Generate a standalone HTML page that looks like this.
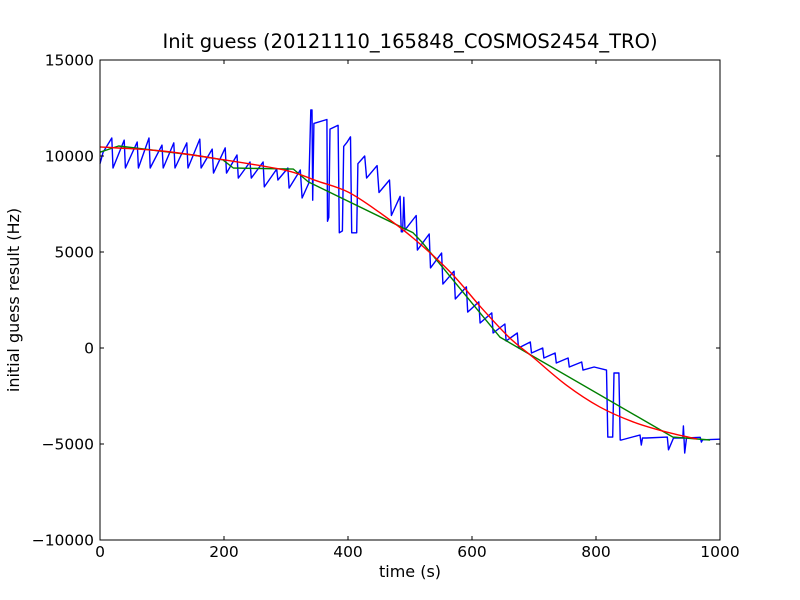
<!DOCTYPE html>
<html><head><meta charset="utf-8"><style>
html,body{margin:0;padding:0;background:#fff;}
svg{display:block;font-family:"DejaVu Sans","Liberation Sans",sans-serif;}
</style></head><body>
<svg id="chart" width="800" height="600" viewBox="0 0 800 600">
<rect x="0" y="0" width="800" height="600" fill="#fff"/>
<text x="410" y="48" font-size="19.5" text-anchor="middle">Init guess (20121110_165848_COSMOS2454_TRO)</text>
<text x="410" y="577" font-size="16" text-anchor="middle">time (s)</text>
<text transform="translate(19,300) rotate(-90)" font-size="16" text-anchor="middle">initial guess result (Hz)</text>
<g id="series"></g>
<g id="axes"></g>
<rect x="100" y="60" width="620" height="480" fill="none" stroke="#000" stroke-width="1"/>
</svg>
<script>
const xTicks = [0, 200, 400, 600, 800, 1000];
const yTicks = [15000, 10000, 5000, 0, -5000, -10000];
const blueT = [0,5,19,21,39,41,60,62,79,81,100,102,119,121,140,142,161,163,181,183,202,204,221,223,242,244,263,265,285,287,303,305,323,326,337,340,342,343,345,366,367,369,371,384,386,391,393,398,404,406,414,416,427,430,447,450,467,470,484,486,488,490,492,510,512,531,533,551,553,571,573,591,593,611,613,632,634,653,655,673,675,694,696,714,716,734,736,755,757,777,779,797,817,819,827,829,831,837,839,841,871,873,875,881,915,917,925,940,941,943,946,968,970,972,1000];
const blueV = [9600,10200,10940,9375,10830,9375,10730,9375,10940,9375,10570,9375,10680,9375,10680,9375,10880,9375,10360,9110,10420,9110,10050,8850,9690,8850,9690,8390,9320,8750,9375,8330,9270,7810,8600,12400,12400,7700,11700,11900,6600,6800,11400,11600,6000,6100,10500,10700,11000,6000,6000,9600,10000,8850,9500,8100,8750,6900,7900,6050,6050,7850,6150,6900,5100,5940,4170,4950,3330,4000,2550,3180,1870,2400,1300,1830,780,1250,365,780,0,310,-260,0,-520,-260,-780,-520,-990,-730,-1150,-990,-1150,-4640,-4640,-1300,-1300,-1300,-4790,-4790,-4530,-5050,-4690,-4690,-4640,-5300,-4690,-4690,-4060,-5470,-4690,-4650,-4900,-4780,-4750];
const greenT = [0,30,150,198,215,312,336,505,519,645,924,984];
const greenV = [10200,10520,10050,9800,9375,9320,8650,6000,5520,570,-4640,-4790];
const redT = [0,100,200,300,350,400,450,505,565,615,661,698,752,806,860,914,963];
const redV = [10470,10260,9800,9250,8700,8125,7080,5730,3950,2100,520,-470,-1930,-3070,-3850,-4380,-4740];

const X0=100,X1=720,Y0=540,Y1=60,XMIN=0,XMAX=1000,YMIN=-10000,YMAX=15000;
function xs(v){return X0+(v-XMIN)/(XMAX-XMIN)*(X1-X0);}
function ys(v){return Y0-(v-YMIN)/(YMAX-YMIN)*(Y0-Y1);}
const NS="http://www.w3.org/2000/svg";
const series=document.getElementById('series');
const axes=document.getElementById('axes');

function line(ts,vs,color,name){
  const p=document.createElementNS(NS,'polyline');
  p.setAttribute('points',ts.map((t,i)=>xs(t).toFixed(1)+','+ys(vs[i]).toFixed(1)).join(' '));
  p.setAttribute('fill','none');p.setAttribute('stroke',color);p.setAttribute('stroke-width','1.4');
  p.setAttribute('stroke-linejoin','round');
  
  
  series.appendChild(p);
}
line(blueT,blueV,'#0000ff','blue-series-line');
line(greenT,greenV,'#008000','green-series-line');
(function(){
  const pts=redT.map((t,i)=>[xs(t),ys(redV[i])]);
  let d='M'+pts[0][0]+','+pts[0][1];
  for(let i=0;i<pts.length-1;i++){
    const p0=pts[i-1]||pts[i],p1=pts[i],p2=pts[i+1],p3=pts[i+2]||p2;
    const c1=[p1[0]+(p2[0]-p0[0])/6,p1[1]+(p2[1]-p0[1])/6];
    const c2=[p2[0]-(p3[0]-p1[0])/6,p2[1]-(p3[1]-p1[1])/6];
    d+=` C${c1[0]},${c1[1]} ${c2[0]},${c2[1]} ${p2[0]},${p2[1]}`;
  }
  const p=document.createElementNS(NS,'path');
  p.setAttribute('d',d);p.setAttribute('fill','none');p.setAttribute('stroke','#ff0000');p.setAttribute('stroke-width','1.4');
  
  
  series.appendChild(p);
})();

xTicks.forEach(v=>{
  const x=xs(v);
  [[Y0,Y0-4],[Y1,Y1+4]].forEach(([a,b])=>{
    const l=document.createElementNS(NS,'line');
    l.setAttribute('x1',x);l.setAttribute('x2',x);l.setAttribute('y1',a);l.setAttribute('y2',b);l.setAttribute('stroke','#000');
    
    
    axes.appendChild(l);
  });
  const t=document.createElementNS(NS,'text');
  t.setAttribute('x',x);t.setAttribute('y',557);t.setAttribute('font-size','15.5');t.setAttribute('text-anchor','middle');
  t.textContent=String(v);
  
  
  axes.appendChild(t);
});
yTicks.forEach(v=>{
  const y=ys(v);
  [[X0,X0+4],[X1,X1-4]].forEach(([a,b])=>{
    const l=document.createElementNS(NS,'line');
    l.setAttribute('x1',a);l.setAttribute('x2',b);l.setAttribute('y1',y);l.setAttribute('y2',y);l.setAttribute('stroke','#000');
    
    
    axes.appendChild(l);
  });
  const t=document.createElementNS(NS,'text');
  t.setAttribute('x',94);t.setAttribute('y',y+5.5);t.setAttribute('font-size','15.5');t.setAttribute('text-anchor','end');
  t.textContent=(v<0?'\u2212':'')+Math.abs(v);
  
  
  axes.appendChild(t);
});
</script>
</body></html>
